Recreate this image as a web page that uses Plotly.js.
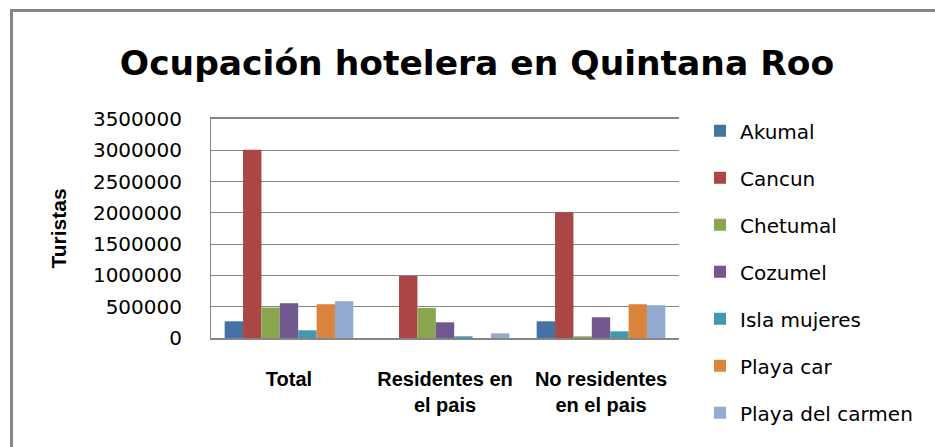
<!DOCTYPE html>
<html>
<head>
<meta charset="utf-8">
<script src="https://cdn.plot.ly/plotly-3.0.1.min.js"></script>
<style>
  html, body { margin: 0; padding: 0; background: #ffffff; }
  #wrap { position: relative; width: 935px; height: 447px; overflow: hidden; }
  #chart { position: absolute; left: 0; top: 0; width: 935px; height: 447px; }
  #frame { position: absolute; left: 10px; top: 9px; width: 1000px; height: 600px;
           border: 3px solid #868686; box-sizing: border-box; pointer-events: none; }
</style>
</head>
<body>
<div id="wrap">
  <div id="chart"></div>
  <div id="frame"></div>
</div>
<script>
// Categories (x axis)
const categories = ["Total", "Residentes en<br>el pais", "No residentes<br>en el pais"];

// Series names
const seriesNames = ["Akumal", "Cancun", "Chetumal", "Cozumel", "Isla mujeres", "Playa car", "Playa del carmen"];

// Series values (tourists), one array per series, in category order
const akumal         = [267000, 0, 267000];
const cancun         = [3010000, 990000, 2010000];
const chetumal       = [486000, 481000, 27000];
const cozumel        = [556000, 251000, 331000];
const islaMujeres    = [123000, 27000, 107000];
const playaCar       = [540000, 0, 540000];
const playaDelCarmen = [588000, 75000, 524000];

const seriesValues = [akumal, cancun, chetumal, cozumel, islaMujeres, playaCar, playaDelCarmen];

const colors = ["#4572A7", "#AA4643", "#89A54E", "#71588F", "#4198AF", "#DB843D", "#93A9CF"];

const traces = seriesNames.map((name, i) => ({
  type: "bar",
  name: name,
  x: categories,
  y: seriesValues[i],
  marker: { color: colors[i], line: { width: 0 } },
  legendgroup: "g" + i,
  hoverinfo: "name+y"
}));

const layout = {
  width: 935,
  height: 447,
  margin: { l: 211, r: 256, t: 119, b: 109, pad: 0 },
  paper_bgcolor: "rgba(0,0,0,0)",
  plot_bgcolor: "rgba(0,0,0,0)",
  barmode: "group",
  bargap: 0.175,
  bargroupgap: 0,
  title: {
    text: "Ocupación hotelera en Quintana Roo",
    font: { family: "DejaVu Sans", size: 34.5, color: "#000000", weight: "bold" },
    x: 477 / 935,
    xanchor: "center",
    xref: "container",
    yref: "container",
    y: 1 - 63 / 447,
    yanchor: "middle"
  },
  xaxis: {
    type: "category",
    showline: true,
    mirror: true,
    linecolor: "#868686",
    linewidth: 2,
    showgrid: false,
    ticks: "",
    ticklabelstandoff: 22,
    tickfont: { family: "Liberation Sans", size: 20, color: "#000000", weight: "bold" },
    fixedrange: true
  },
  yaxis: {
    range: [0, 3500000],
    dtick: 500000,
    tick0: 0,
    tickformat: "d",
    showline: true,
    linecolor: "#868686",
    linewidth: 1,
    showgrid: true,
    gridcolor: "#868686",
    gridwidth: 1,
    zeroline: false,
    ticks: "",
    ticklabelstandoff: 24,
    tickfont: { family: "DejaVu Sans", size: 20, color: "#000000" },
    title: {
      text: "Turistas",
      font: { family: "Liberation Sans", size: 21, color: "#000000", weight: "bold" },
      standoff: 20
    },
    fixedrange: true
  },
  legend: {
    x: (700 - 211) / 468,
    xanchor: "left",
    y: 1.035,
    yanchor: "top",
    bgcolor: "rgba(0,0,0,0)",
    borderwidth: 0,
    tracegroupgap: 18,
    maxheight: 420,
    font: { family: "DejaVu Sans", size: 20, color: "#000000" },
    traceorder: "grouped"
  },
  showlegend: true
};

Plotly.newPlot("chart", traces, layout, { displayModeBar: false, staticPlot: true });
</script>
</body>
</html>
